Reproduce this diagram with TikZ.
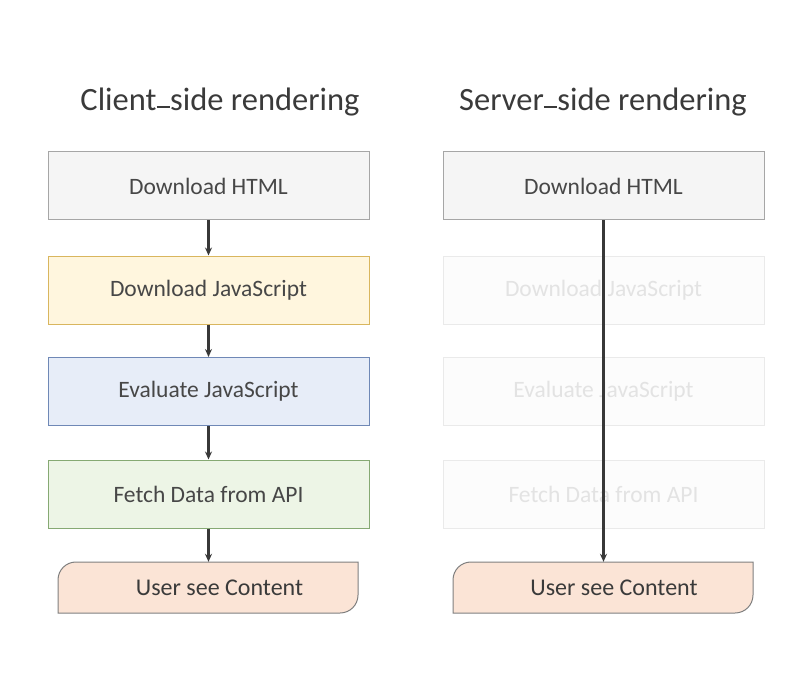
\documentclass[tikz,border=0pt]{standalone}
\usepackage{fontspec}
\setmainfont{Carlito}
\usetikzlibrary{arrows.meta}
\definecolor{txt}{HTML}{474747}
\definecolor{ttl}{HTML}{3A3A3A}
\definecolor{gfill}{HTML}{F5F5F5}
\definecolor{gline}{HTML}{A6A6A6}
\definecolor{yfill}{HTML}{FFF6DE}
\definecolor{yline}{HTML}{D9B65E}
\definecolor{bfill}{HTML}{E7EDF8}
\definecolor{bline}{HTML}{6F88B6}
\definecolor{efill}{HTML}{EDF5E6}
\definecolor{eline}{HTML}{86A973}
\definecolor{pfill}{HTML}{FBE4D6}
\definecolor{pline}{HTML}{7F7F7F}
\definecolor{ffill}{HTML}{FCFCFC}
\definecolor{fline}{HTML}{EAEAEA}
\definecolor{ftxt}{HTML}{E3E3E3}
\definecolor{arr}{HTML}{383838}
\newcommand{\sdash}{\rule[0.08em]{0.42em}{0.06em}}
\tikzset{
  box/.style={rectangle, minimum width=321pt, minimum height=68pt, inner sep=0pt, line width=1pt, font=\fontsize{23.5}{28}\selectfont, text=txt},
  gbox/.style={box, draw=gline, fill=gfill},
  ybox/.style={box, draw=yline, fill=yfill},
  bbox/.style={box, draw=bline, fill=bfill},
  ebox/.style={box, draw=eline, fill=efill},
  fbox/.style={box, draw=fline, fill=ffill, text=ftxt},
  userfrm/.style={draw=pline, fill=pfill, line width=1pt},
  usertxt/.style={font=\fontsize{24}{28}\selectfont, text=ttl, inner sep=0pt},
  ttlstyle/.style={font=\fontsize{32.5}{38}\selectfont, text=ttl, inner sep=0pt},
  flow/.style={draw=arr, line width=2.2pt, -{Stealth[length=8pt,width=7pt]}},
  hold/.style={rectangle, minimum width=300pt, minimum height=51pt, inner sep=0pt}
}
\begin{document}
\begin{tikzpicture}[x=1pt,y=-1pt]
\useasboundingbox (0,0) rectangle (796,682);
% titles
\node[ttlstyle] (t1) at (220,102) {Client\sdash side rendering};
\node[ttlstyle] (t2) at (603,102) {Server\sdash side rendering};
% left column
\node[gbox] (a1) at (208.5,186) {Download HTML};
\node[ybox] (a2) at (208.5,290) {Download JavaScript};
\node[bbox] (a3) at (208.5,391.5) {Evaluate JavaScript};
\node[ebox] (a4) at (208.5,494) {Fetch Data from API};
\draw[userfrm] (58,613) -- (58,580) .. controls (58,570) and (66,562) .. (76,562) -- (358,562) -- (358,595) .. controls (358,605) and (350,613) .. (340,613) -- cycle;
\node[hold] (a5) at (208.5,587.5) {};
\node[usertxt] (a5t) at (219.5,587.5) {User see Content};
% right column
\node[gbox] (b1) at (603.5,186) {Download HTML};
\node[fbox] (b2) at (603.5,290) {Download JavaScript};
\node[fbox] (b3) at (603.5,391.5) {Evaluate JavaScript};
\node[fbox] (b4) at (603.5,494) {Fetch Data from API};
\draw[userfrm] (453,613) -- (453,580) .. controls (453,570) and (461,562) .. (471,562) -- (753,562) -- (753,595) .. controls (753,605) and (745,613) .. (735,613) -- cycle;
\node[hold] (b5) at (603.5,587.5) {};
\node[usertxt] (b5t) at (614,587.5) {User see Content};
% connectors
\draw[flow] (a1) -- (a2);
\draw[flow] (a2) -- (a3);
\draw[flow] (a3) -- (a4);
\draw[flow] (a4) -- (a5);
\draw[flow] (b1) -- (b5);
\end{tikzpicture}
\end{document}
